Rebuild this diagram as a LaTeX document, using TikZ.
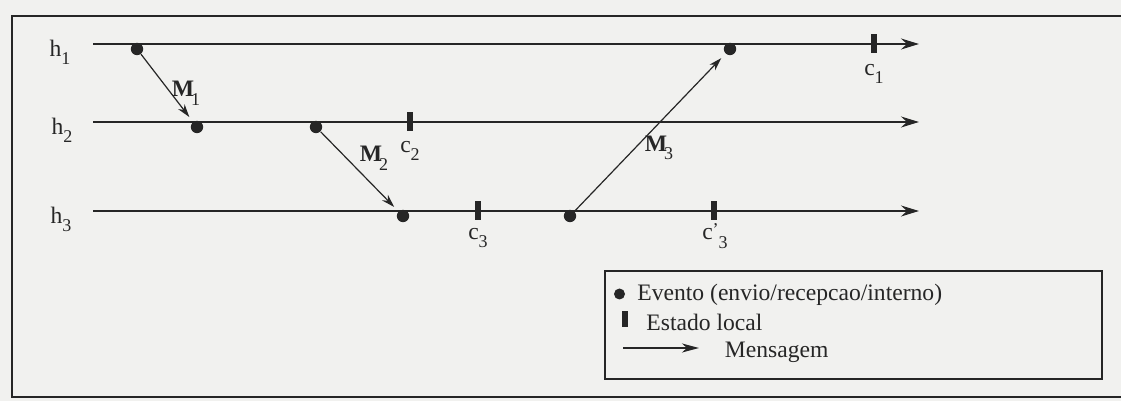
\documentclass[tikz,border=0pt]{standalone}
\usepackage{fontspec}
\setmainfont{Liberation Serif}
\usetikzlibrary{arrows.meta}
\definecolor{ink}{RGB}{38,38,38}
\definecolor{paper}{RGB}{241,241,239}
\newcommand{\mysub}[1]{\raisebox{-4.3pt}{\fontsize{9}{9}\selectfont #1}}
\newcommand{\myprime}{\raisebox{1.9pt}{\fontsize{9}{9}\selectfont '}}
\begin{document}
\begin{tikzpicture}[x=0.5pt,y=-0.5pt,
  every node/.style={font=\fontsize{11.8}{14}\selectfont, text=ink},
  lbl/.style={inner sep=0pt},
  ev/.style={circle, fill=ink, inner sep=0pt, minimum size=6.2pt},
  lev/.style={circle, fill=ink, inner sep=0pt, minimum size=5.5pt},
  st/.style={rectangle, fill=ink, inner sep=0pt, minimum width=2.6pt, minimum height=9.5pt},
  lst/.style={rectangle, fill=ink, inner sep=0pt, minimum width=3pt, minimum height=8pt},
  tl/.style={draw=ink, line width=1pt, -{Stealth[length=9pt,width=5.5pt,inset=3pt]}},
  msg/.style={draw=ink, line width=0.6pt, -{Stealth[length=6.5pt,width=4pt,inset=2pt]}, shorten >=3pt},
  legarrow/.style={draw=ink, line width=0.6pt, -{Stealth[length=8.5pt,width=4.5pt,inset=2.5pt]}},
  frame/.style={draw=ink, line width=1pt},
  legbox/.style={draw=ink, line width=0.8pt, inner sep=0pt, anchor=north west}]

\path[use as bounding box, fill=paper] (0,0) rectangle (1121,401);

% outer frame (its right side lies beyond the picture)
\coordinate (ftr) at (1200,16);
\coordinate (ftl) at (12,16);
\coordinate (fbl) at (12,397);
\coordinate (fbr) at (1200,397);
\draw[frame] (ftr) -- (ftl) -- (fbl) -- (fbr);

% process labels
\node[lbl] (h1l) at (60,52.5) {h\mysub{1}};
\node[lbl] (h2l) at (62,130.5) {h\mysub{2}};
\node[lbl] (h3l) at (61,219.5) {h\mysub{3}};

% time lines
\coordinate (h1s) at (93,44);  \coordinate (h1e) at (919,44);
\coordinate (h2s) at (93,122); \coordinate (h2e) at (919,122);
\coordinate (h3s) at (93,211); \coordinate (h3e) at (919,211);
\draw[tl] (h1s) -- (h1e);
\draw[tl] (h2s) -- (h2e);
\draw[tl] (h3s) -- (h3e);

% events
\node[ev] (e1) at (137,49) {};
\node[ev] (e2) at (197,127) {};
\node[ev] (e3) at (316,127) {};
\node[ev] (e4) at (403,216) {};
\node[ev] (e5) at (570,216) {};
\node[ev] (e6) at (730,49) {};

% local states
\node[st] (s1) at (874,44) {};
\node[st] (s2) at (410,122) {};
\node[st] (s3) at (478,211) {};
\node[st] (s4) at (714,211) {};

\node[lbl] (c1l) at (874,74) {c\mysub{1}};
\node[lbl] (c2l) at (410,151) {c\mysub{2}};
\node[lbl] (c3l) at (478,238) {c\mysub{3}};
\node[lbl] (c4l) at (715,236) {c\myprime\mysub{3}};

% messages
\draw[msg] (e1) -- (e2);
\draw[msg] (e3) -- (e4);
\draw[msg] (e5) -- (e6);
\node[lbl] (m1) at (186,93) {\textbf{M}\kern-1.5pt\mysub{1}};
\node[lbl] (m2) at (374,158) {\textbf{M}\kern-1.5pt\mysub{2}};
\node[lbl] (m3) at (659,148) {\textbf{M}\kern-1.5pt\mysub{3}};

% legend
\node[legbox, minimum width=248.5pt, minimum height=54pt] (leg) at (604,270) {};
\node[lev] (ld) at (619.5,294) {};
\node[lst] (ls) at (625,319.5) {};
\coordinate (la1) at (623,348);
\coordinate (la2) at (699,348);
\draw[legarrow] (la1) -- (la2);
\node[lbl, anchor=base west] (t1) at (637,300.5) {Evento (envio/recepcao/interno)};
\node[lbl, anchor=base west] (t2) at (646,330.3) {Estado local};
\node[lbl, anchor=base west] (t3) at (724.5,357.4) {Mensagem};
\end{tikzpicture}
\end{document}
